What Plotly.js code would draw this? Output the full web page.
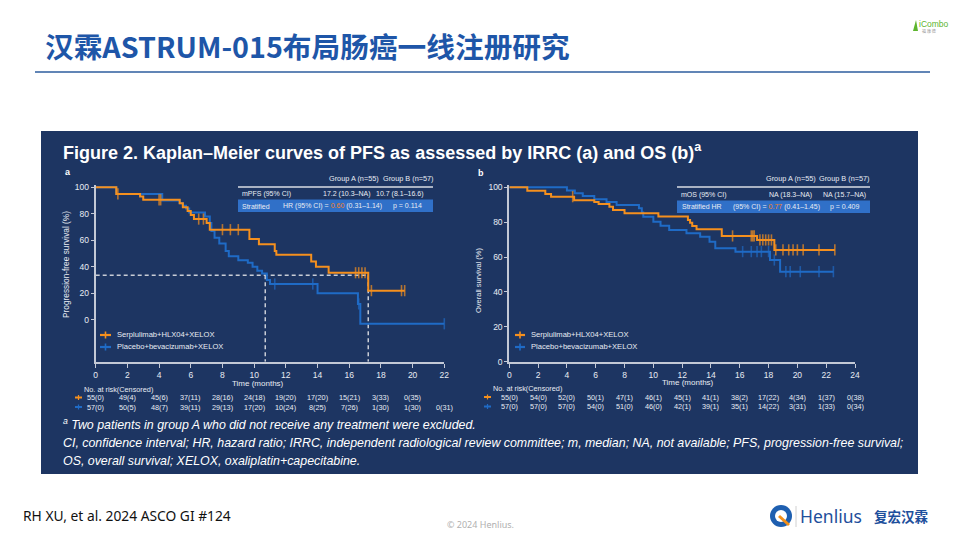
<!DOCTYPE html>
<html><head><meta charset="utf-8">
<script src="https://cdn.plot.ly/plotly-3.0.1.min.js"></script>
<style>html,body{margin:0;padding:0;background:#fff;}#chart{width:960px;height:540px;}</style>
</head><body><div id="chart"></div>
<script>
// ---------------- DATA ----------------
const pfsA_time = [0,1.3,1.4,2.8,3.0,4.0,4.1,5.3,5.5,5.8,6.0,6.2,6.5,6.8,7.0,7.2,8.0,8.5,9.0,9.7,10.3,11.3,11.4,13.6,13.9,14.7,16.4,16.6,16.8,17.0,17.2,17.4,19.3,19.5];
const pfsA_surv = [100,95,95,93,90.5,90.5,90.5,88,85,82,79,76,76,76,73,68,68,68,68,61,57,52,49,44,40,35.5,35.5,35.5,35.5,35.5,22,22,22,22];
const pfsA_cens = [0,0,1,0,0,1,1,0,0,0,0,0,1,1,0,0,1,1,1,0,0,0,0,0,0,0,1,1,1,1,0,1,1,1];

const pfsB_time = [0,1.3,4.2,5.3,5.5,5.7,5.9,6.9,7.2,7.3,7.5,7.8,8.2,8.4,9.0,9.6,9.9,10.2,10.5,10.8,11.0,11.3,13.7,14.0,16.55,16.6,16.7,22.0];
const pfsB_surv = [100,95,90,88,86,84,81,78,73,67,62,57.5,52,48,45,43,40,37,35,30,27,27,27,20,12,12,-3,-3];
const pfsB_cens = [0,0,0,0,0,0,0,0,0,0,0,0,0,0,0,0,0,0,0,0,0,1,1,0,0,1,0,1];

const osA_time = [0,1.25,2.5,2.9,4.4,4.5,5.9,6.2,6.95,7.2,8.0,10.35,12.4,12.55,12.7,13.0,14.75,15.5,16.8,16.9,17.0,17.2,17.4,17.6,17.8,18.0,18.2,18.4,18.5,19.0,19.4,19.7,20.0,20.4,21.5,22.6];
const osA_surv = [100,98,96.2,94.6,94.6,92.5,91.5,90.4,88.9,87,85.1,83.2,81.3,79.7,77.8,75.9,72.1,72.1,72.1,72.1,72.1,69.8,69.8,69.8,69.8,69.8,69.8,64.1,64.1,64.1,64.1,64.1,64.1,64.1,64.1,64.1];
const osA_cens = [0,0,0,0,1,0,0,0,0,0,0,0,0,0,0,0,0,1,1,1,1,0,1,1,1,1,1,0,1,1,1,1,1,1,1,1];

const osB_time = [0,4.0,4.55,5.1,5.9,6.75,7.45,9.0,9.2,9.3,10.0,10.5,11.1,12.3,13.25,13.9,14.3,15.7,16.2,16.8,17.2,17.5,18.0,18.1,18.4,18.8,19.2,19.5,20.2,21.5,22.5];
const osB_surv = [100,98.1,96.6,95,93.1,91.6,89.9,88,85.5,83.1,80.3,78,75.5,73.6,71.7,68.8,65,63.1,63.1,63.1,63.1,63.1,63.1,58.3,58.3,51.6,51.6,51.6,51.6,51.6,51.6];
const osB_cens = [0,0,0,0,0,0,0,0,0,0,0,0,0,0,0,0,0,0,1,1,1,1,1,0,1,0,1,1,1,1,1];

const pfsMedianA = 17.2, pfsMedianB = 10.7, pfsMedianLevel = 33.6;

const pfsTicks = [0,2,4,6,8,10,12,14,16,18,20,22];
const osTicks  = [0,2,4,6,8,10,12,14,16,18,20,22,24];
const survTicks = [0,20,40,60,80,100];

const pfsRiskA = ['55(0)','49(4)','45(6)','37(11)','28(16)','24(18)','19(20)','17(20)','15(21)','3(33)','0(35)'];
const pfsRiskB = ['57(0)','50(5)','48(7)','39(11)','29(13)','17(20)','10(24)','8(25)','7(26)','1(30)','1(30)','0(31)'];
const osRiskA  = ['55(0)','54(0)','52(0)','50(1)','47(1)','46(1)','45(1)','41(1)','38(2)','17(22)','4(34)','1(37)','0(38)'];
const osRiskB  = ['57(0)','57(0)','57(0)','54(0)','51(0)','46(0)','42(1)','39(1)','35(1)','14(22)','3(31)','1(33)','0(34)'];

const armA = 'Serplulimab+HLX04+XELOX';
const armB = 'Placebo+bevacizumab+XELOX';

// ---------------- STYLE ----------------
const ORANGE = '#F5901E', BLUE = '#1F6BC6', PANEL = '#1D3562', BOX = '#3070C8';
const AXC = '#C3C9D6', TXT = '#E8ECF3';
const F = 'Liberation Sans, Arial, sans-serif';
const X = px => px / 960, Y = py => 1 - py / 540;
const yMinPFS = -31.6;

function km(t, s, c, color, xa, ya) {
  return {
    x: t, y: s, xaxis: xa, yaxis: ya, type: 'scatter', mode: 'lines+markers',
    line: {shape: 'hv', color: color, width: 2},
    marker: {symbol: 'line-ns-open', size: c.map(v => v ? 8 : 0), color: color, line: {color: color, width: 1.6}},
    showlegend: false, hoverinfo: 'skip', cliponaxis: false
  };
}

const traces = [
  {x: [0, pfsMedianA, null, pfsMedianB, pfsMedianB, null, pfsMedianA, pfsMedianA],
   y: [pfsMedianLevel, pfsMedianLevel, null, pfsMedianLevel, yMinPFS, null, pfsMedianLevel, yMinPFS],
   xaxis: 'x', yaxis: 'y', mode: 'lines', line: {color: '#C9CDD6', width: 1.5, dash: '4px,3px'},
   showlegend: false, hoverinfo: 'skip'},
  km(pfsB_time, pfsB_surv, pfsB_cens, BLUE, 'x', 'y'),
  km(pfsA_time, pfsA_surv, pfsA_cens, ORANGE, 'x', 'y'),
  km(osB_time, osB_surv, osB_cens, BLUE, 'x2', 'y2'),
  km(osA_time, osA_surv, osA_cens, ORANGE, 'x2', 'y2')
];

const axBase = {showline: true, linecolor: AXC, linewidth: 2, ticks: 'outside', ticklen: 4, tickwidth: 1,
  tickcolor: AXC, showgrid: false, zeroline: false, tickfont: {family: F, size: 8.5, color: TXT}, fixedrange: true};

const ann = [];
const shapes = [];
function txt(x, y, text, size, opts) {
  ann.push(Object.assign({xref: 'paper', yref: 'paper', x: X(x), y: Y(y), text: text, showarrow: false,
    xanchor: 'left', yanchor: 'middle', font: {family: F, size: size, color: TXT}, borderpad: 0}, opts || {}));
}

// slide title
txt(44, 45, '<b>汉霖ASTRUM-015布局肠癌一线注册研究</b>', 28.7, {font: {family: 'Noto Sans CJK SC, sans-serif', size: 28.7, color: '#1E56A8'}});
shapes.push({type: 'line', xref: 'paper', yref: 'paper', x0: X(35), x1: X(930), y0: Y(72), y1: Y(72), line: {color: '#2D5C9E', width: 1.5}});
// iCombo logo
shapes.push({type: 'path', xref: 'paper', yref: 'paper', path: `M ${X(913)} ${Y(31)} L ${X(916)} ${Y(20)} L ${X(918)} ${Y(31)} Z`, fillcolor: '#5DB52E', line: {width: 0}});
txt(918, 24, 'iCombo', 8.5, {font: {family: F, size: 8.5, color: '#5DB52E'}});
txt(921, 31, '福 康 德', 4, {font: {family: 'Noto Sans CJK SC', size: 4, color: '#999'}});

// dark panel
shapes.push({type: 'rect', xref: 'paper', yref: 'paper', x0: X(41), x1: X(918), y0: Y(131), y1: Y(474), fillcolor: PANEL, line: {width: 0}, layer: 'below'});

// figure heading
txt(62, 152, '<b>Figure 2. Kaplan–Meier curves of PFS as assessed by IRRC (a) and OS (b)<sup>a</sup></b>', 18, {font: {family: F, size: 18, color: '#FFFFFF'}});
txt(64, 172, '<b>a</b>', 9, {font: {family: F, size: 9, color: '#FFFFFF'}});
txt(477, 173, '<b>b</b>', 9, {font: {family: F, size: 9, color: '#FFFFFF'}});

// axis titles
txt(66, 265, 'Progression-free survival (%)', 8.3, {xanchor: 'center', textangle: -90});
txt(478, 280, 'Overall survival (%)', 7.5, {xanchor: 'center', textangle: -90});
txt(258, 383, 'Time (months)', 8, {xanchor: 'center'});
txt(688, 382.5, 'Time (months)', 8, {xanchor: 'center'});

// PFS table
const TS = 7;
txt(328, 178, 'Group A (n=55)', 7.3);
txt(382, 178, 'Group B (n=57)', 7.3);
shapes.push({type: 'line', xref: 'paper', yref: 'paper', x0: X(238), x1: X(433), y0: Y(187), y1: Y(187), line: {color: '#D8DCE4', width: 1.5}});
txt(241, 194, 'mPFS (95% CI)', TS);
txt(371, 194, '17.2 (10.3–NA)', TS, {xanchor: 'right'});
txt(375, 194, '10.7 (8.1–16.6)', TS);
shapes.push({type: 'rect', xref: 'paper', yref: 'paper', x0: X(238), x1: X(433), y0: Y(212), y1: Y(199.5), fillcolor: BOX, line: {width: 0}});
txt(241, 206, 'Stratified', TS);
txt(282, 206, 'HR (95% CI) = <span style="color:#F5821F">0.60</span> (0.31–1.14)', TS);
txt(392, 206, 'p = 0.114', TS);

// OS table
txt(765, 178, 'Group A (n=55)', 7.3);
txt(818, 178, 'Group B (n=57)', 7.3);
shapes.push({type: 'line', xref: 'paper', yref: 'paper', x0: X(677), x1: X(870), y0: Y(187), y1: Y(187), line: {color: '#D8DCE4', width: 1.5}});
txt(680, 194.5, 'mOS (95% CI)', TS);
txt(768, 194.5, 'NA (18.3–NA)', TS);
txt(822, 194.5, 'NA (15.7–NA)', TS);
shapes.push({type: 'rect', xref: 'paper', yref: 'paper', x0: X(677), x1: X(870), y0: Y(213), y1: Y(200.5), fillcolor: BOX, line: {width: 0}});
txt(681, 207, 'Stratified HR', TS);
txt(732, 207, '(95% CI) = <span style="color:#F5821F">0.77</span> (0.41–1.45)', TS);
txt(829, 207, 'p = 0.409', TS);

// legends
function legKey(x0, x1, y, color) {
  shapes.push({type: 'line', xref: 'paper', yref: 'paper', x0: X(x0), x1: X(x1), y0: Y(y), y1: Y(y), line: {color: color, width: 2.2}});
  const xm = (x0 + x1) / 2;
  shapes.push({type: 'line', xref: 'paper', yref: 'paper', x0: X(xm), x1: X(xm), y0: Y(y - 3.5), y1: Y(y + 3.5), line: {color: color, width: 1.6}});
}
legKey(100, 111, 335, ORANGE); txt(116, 334.5, armA, 7.6);
legKey(100, 111, 347, BLUE);   txt(116, 346.5, armB, 7.6);
legKey(515, 525, 335, ORANGE); txt(530, 334.5, armA, 7.6);
legKey(515, 525, 347, BLUE);   txt(530, 346.5, armB, 7.6);

// at-risk tables
txt(83, 389, 'No. at risk(Censored)', 7.3);
txt(492, 388.5, 'No. at risk(Censored)', 7.3);
function riskKey(x0, x1, y, color) {
  shapes.push({type: 'line', xref: 'paper', yref: 'paper', x0: X(x0), x1: X(x1), y0: Y(y), y1: Y(y), line: {color: color, width: 2}});
  const xm = (x0 + x1) / 2;
  shapes.push({type: 'line', xref: 'paper', yref: 'paper', x0: X(xm), x1: X(xm), y0: Y(y - 2.5), y1: Y(y + 2.5), line: {color: color, width: 1.2}});
}
riskKey(75, 82, 397.5, ORANGE); riskKey(75, 82, 407, BLUE);
riskKey(484, 491, 397, ORANGE); riskKey(484, 491, 406.5, BLUE);
function riskRow(ticks, vals, xref, py) {
  vals.forEach((v, i) => ann.push({xref: xref, yref: 'paper', x: ticks[i], y: Y(py), text: v, showarrow: false,
    xanchor: 'center', yanchor: 'middle', font: {family: F, size: 7.3, color: TXT}, borderpad: 0}));
}
riskRow(pfsTicks, pfsRiskA, 'x', 397.5);
riskRow(pfsTicks, pfsRiskB, 'x', 407);
riskRow(osTicks, osRiskA, 'x2', 397);
riskRow(osTicks, osRiskB, 'x2', 406.5);

// footnotes
const fn = {family: F, size: 12.4, color: '#FFFFFF', style: 'italic'};
txt(62, 424, '<sup>a</sup> Two patients in group A who did not receive any treatment were excluded.', 12.4, {font: fn});
txt(62, 443, 'CI, confidence interval; HR, hazard ratio; IRRC, independent radiological review committee; m, median; NA, not available; PFS, progression-free survival;', 12.4, {font: fn});
txt(62, 461, 'OS, overall survival; XELOX, oxaliplatin+capecitabine.', 12.4, {font: fn});

// bottom texts
txt(22, 515, 'RH XU, et al. 2024 ASCO GI #124', 13.8, {font: {family: 'Noto Sans, sans-serif', size: 13.8, color: '#111111'}});
txt(480, 524, '© 2024 Henlius.', 9, {xanchor: 'center', font: {family: 'Noto Sans, sans-serif', size: 9, color: '#B0B0B0'}});
// Henlius logo
shapes.push({type: 'circle', xref: 'paper', yref: 'paper', x0: X(770), x1: X(792), y0: Y(527), y1: Y(505), fillcolor: '#1E5FB0', line: {width: 0}});
shapes.push({type: 'circle', xref: 'paper', yref: 'paper', x0: X(775), x1: X(787), y0: Y(522), y1: Y(510), fillcolor: '#FFFFFF', line: {width: 0}});
shapes.push({type: 'line', xref: 'paper', yref: 'paper', x0: X(779), x1: X(789), y0: Y(516), y1: Y(525), line: {color: '#F39019', width: 3}});
shapes.push({type: 'line', xref: 'paper', yref: 'paper', x0: X(796), x1: X(796), y0: Y(506), y1: Y(527), line: {color: '#D0D0D0', width: 1}});
txt(799, 516, 'Henlius', 17.5, {font: {family: 'Noto Sans, sans-serif', size: 17.5, color: '#1E4F9C'}});
txt(873, 516, '<b>复宏汉霖</b>', 13.5, {font: {family: 'Noto Sans CJK SC, sans-serif', size: 13.5, color: '#1E4F9C'}});

const layout = {
  width: 960, height: 540, margin: {l: 0, r: 0, t: 0, b: 0},
  paper_bgcolor: '#FFFFFF', plot_bgcolor: 'rgba(0,0,0,0)', showlegend: false,
  font: {family: F, color: TXT},
  xaxis: Object.assign({}, axBase, {domain: [X(95.7), X(444.3)], range: [0, 22], tickvals: pfsTicks, anchor: 'y'}),
  yaxis: Object.assign({}, axBase, {domain: [Y(361.7), Y(185)], range: [yMinPFS, 101.7], tickvals: survTicks, anchor: 'x', ticklen: 3}),
  xaxis2: Object.assign({}, axBase, {domain: [X(509.3), X(855)], range: [0, 24], tickvals: osTicks, anchor: 'y2'}),
  yaxis2: Object.assign({}, axBase, {domain: [Y(361.7), Y(185)], range: [0, 101.3], tickvals: survTicks, anchor: 'x2', ticklen: 3}),
  annotations: ann, shapes: shapes
};

Plotly.newPlot('chart', traces, layout, {staticPlot: true, displayModeBar: false});
</script>
</body></html>
